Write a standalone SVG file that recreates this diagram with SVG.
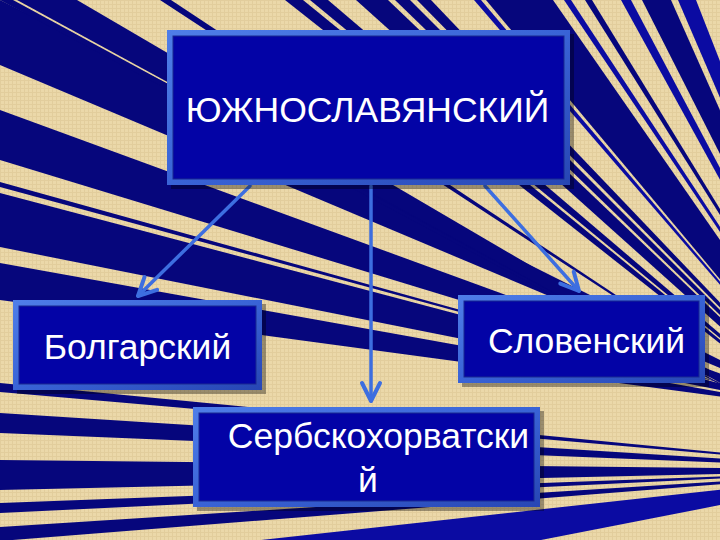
<svg xmlns="http://www.w3.org/2000/svg" width="720" height="540" viewBox="0 0 720 540">
<defs>
<style>
.n{fill:#06067c}
.b{fill:#0b0ba2}
.sh{fill:#000;opacity:.35}
.bd{fill:url(#bev)}
.in{fill:#0303a6;stroke:#1a2a90;stroke-width:1}
.t{font-family:"Liberation Sans",Arial,sans-serif;font-size:35.5px;fill:#ffffff}
.c{fill:none;stroke:#3d6ee0;stroke-width:3.5;stroke-linecap:round}
</style>
<pattern id="tex" width="4" height="4" patternUnits="userSpaceOnUse">
<rect width="4" height="4" fill="#ebd8a9"/>
<path d="M0 0.5H4M0.5 0V4" stroke="#d6bf8c" stroke-width="1" opacity="0.45"/>
</pattern>
<linearGradient id="bev" x1="0" y1="0" x2="1" y2="1">
<stop offset="0" stop-color="#4f7ee8"/>
<stop offset="0.5" stop-color="#3963d6"/>
<stop offset="1" stop-color="#2746b4"/>
</linearGradient>
<marker id="arr" viewBox="0 0 24 24" refX="21" refY="12" markerWidth="24" markerHeight="24" markerUnits="userSpaceOnUse" orient="auto">
<path d="M3,3 L21,12 L3,21" fill="none" stroke="#3d6ee0" stroke-width="4" stroke-linecap="round" stroke-linejoin="round"/>
</marker>
</defs>
<rect width="720" height="540" fill="url(#tex)"/>
<g id="stripes">
<polygon class="n" points="0,0 0,65 820,410"/>
<polygon class="n" points="0,110 0,160 820,410"/>
<polygon class="n" points="0,182 0,187 820,410"/>
<polygon class="n" points="0,193 0,247 820,410"/>
<polygon class="n" points="0,263 0,300 820,410"/>
<polygon class="n" points="0,383 0,392 900,470"/>
<polygon class="n" points="0,413 0,433 900,470"/>
<polygon class="n" points="0,460 0,490 900,470"/>
<polygon class="n" points="0,503 0,513 900,470"/>
<polygon class="n" points="0,527 0,541 900,470"/>
<polygon class="b" points="261,540 541,540 900,470"/>
<polygon class="n" points="0,0 13,0 880,470"/>
<polygon class="n" points="17,0 77,0 880,470"/>
<polygon class="n" points="160,0 171,0 880,470"/>
<polygon class="n" points="285,0 303,0 880,470"/>
<polygon class="n" points="310,0 328,0 880,470"/>
<polygon class="n" points="356,0 388,0 880,470"/>
<polygon class="n" points="395,0 410,0 880,470"/>
<polygon class="n" points="417,0 431,0 880,470"/>
<polygon class="b" points="474,0 481,0 880,470"/>
<polygon class="n" points="486,0 553,0 880,470"/>
<polygon class="b" points="564,0 571,0 880,470"/>
<polygon class="n" points="585,0 592,0 880,470"/>
<polygon class="b" points="621,0 631,0 880,470"/>
<polygon class="n" points="642,0 671,0 880,470"/>
<polygon class="b" points="678,0 696,0 880,470"/>
</g>
<g id="connectors">
<path class="c" d="M250,186 L138,296" marker-end="url(#arr)"/>
<path class="c" d="M371,186 L371,401" marker-end="url(#arr)"/>
<path class="c" d="M485,186 L579,291" marker-end="url(#arr)"/>
</g>
<g id="node-south-slavic">
<rect class="sh" x="171" y="34" width="403" height="155"/>
<rect class="bd" x="167" y="30" width="403" height="155"/>
<rect class="in" x="173" y="36" width="391" height="143"/>
<text class="t" x="367.5" y="122" text-anchor="middle">ЮЖНОСЛАВЯНСКИЙ</text>
</g>
<g id="node-bulgarian">
<rect class="sh" x="17" y="304" width="249" height="90"/>
<rect class="bd" x="13" y="300" width="249" height="90"/>
<rect class="in" x="19" y="306" width="237" height="78"/>
<text class="t" x="137.5" y="359" text-anchor="middle">Болгарский</text>
</g>
<g id="node-slovene">
<rect class="sh" x="462" y="299" width="247" height="88"/>
<rect class="bd" x="458" y="295" width="247" height="88"/>
<rect class="in" x="464" y="301" width="235" height="76"/>
<text class="t" x="586.5" y="353" text-anchor="middle">Словенский</text>
</g>
<g id="node-serbo-croatian">
<rect class="sh" x="197" y="411" width="347" height="100"/>
<rect class="bd" x="193" y="407" width="347" height="100"/>
<rect class="in" x="199" y="413" width="335" height="88"/>
<text class="t" x="378.5" y="448" text-anchor="middle">Сербскохорватски</text>
<text class="t" x="368" y="492" text-anchor="middle">й</text>
</g>
</svg>
